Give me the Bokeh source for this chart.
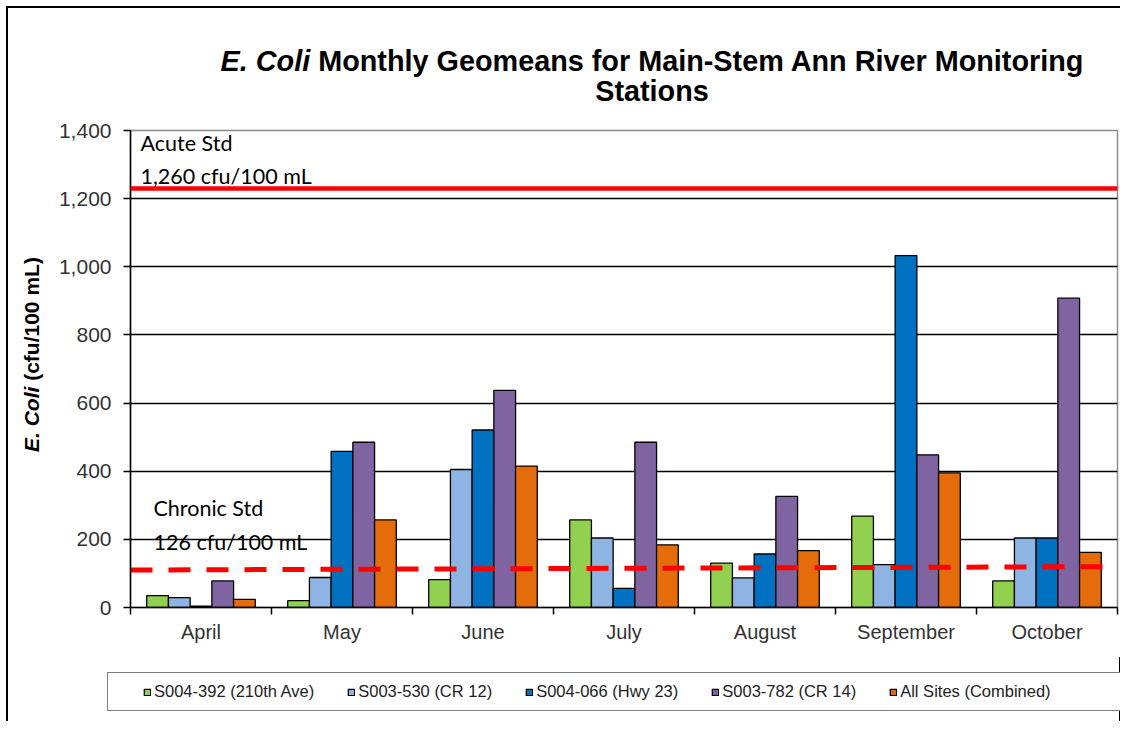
from bokeh.plotting import figure
from bokeh.models import (FixedTicker, NumeralTickFormatter, Range1d, Label, Legend,
                          LegendItem, Span, Div)
from bokeh.layouts import column, row
from bokeh.embed import file_html
from bokeh.resources import INLINE

# ---------------- data ----------------
months = ["April", "May", "June", "July", "August", "September", "October"]
series_names = ["S004-392 (210th Ave)", "S003-530 (CR 12)", "S004-066 (Hwy 23)",
                "S003-782 (CR 14)", "All Sites (Combined)"]
s004_392 = [35, 20, 82, 257, 130, 268, 78]
s003_530 = [29, 88, 405, 204, 87, 126, 204]
s004_066 = [4, 458, 521, 56, 157, 1033, 204]
s003_782 = [78, 485, 637, 485, 326, 448, 908]
all_sites = [24, 257, 415, 184, 167, 395, 162]
series_values = [s004_392, s003_530, s004_066, s003_782, all_sites]
series_colors = ["#92D050", "#8DB4E2", "#0070C0", "#8064A2", "#E46C0A"]
y_ticks = [0, 200, 400, 600, 800, 1000, 1200, 1400]
acute_level = 1230          # drawn position of the acute standard line
chronic_line = [110, 120]   # dashed chronic standard line, left to right

FONT = "Liberation Sans"
CAL = "Lato"

p = figure(width=1068, height=541, output_backend="svg", toolbar_location=None,
           x_range=Range1d(0, len(months)), y_range=Range1d(0, 1400),
           min_border_left=78, min_border_right=3, min_border_top=14,
           min_border_bottom=50)
p.background_fill_color = "white"
p.border_fill_color = "white"
p.outline_line_color = "#8c8c8c"
p.outline_line_width = 1.5

# ---------------- bars ----------------
bw = 0.154
bar_x = []
for k, (vals, col) in enumerate(zip(series_values, series_colors)):
    xs = [i + 0.5 + (k - 2) * bw for i in range(len(months))]
    bar_x.append(xs)
    p.vbar(x=xs, top=vals, width=bw, bottom=0, fill_color=col,
           line_color="black", line_width=1.3)

# ---------------- standards ----------------
p.add_layout(Span(location=acute_level, dimension="width", line_color="#FF0000",
                  line_width=4.5))
p.line(x=[0, len(months)], y=chronic_line, line_color="#FF0000", line_width=5,
       line_dash="22 16")

# ---------------- axes ----------------
yax = p.yaxis[0]
yax.ticker = FixedTicker(ticks=y_ticks)
yax.formatter = NumeralTickFormatter(format="0,0")
yax.major_tick_out = 7
yax.major_tick_in = 0
yax.minor_tick_line_color = None
yax.axis_line_color = "black"
yax.axis_line_width = 1.5
yax.major_tick_line_color = "black"
yax.major_tick_line_width = 1.5
yax.major_label_text_font = FONT
yax.major_label_text_font_size = "21px"
yax.major_label_text_color = "#333333"
yax.major_label_standoff = 12

xax = p.xaxis[0]
centers = [i + 0.5 for i in range(len(months))]
xax.ticker = FixedTicker(ticks=centers, minor_ticks=list(range(len(months) + 1)))
xax.major_label_overrides = {c: m for c, m in zip(centers, months)}
xax.major_tick_line_color = None
xax.major_tick_out = 0
xax.major_tick_in = 0
xax.minor_tick_line_color = "black"
xax.minor_tick_line_width = 1.5
xax.minor_tick_out = 7
xax.minor_tick_in = 0
xax.axis_line_color = "black"
xax.axis_line_width = 1.5
xax.major_label_text_font = FONT
xax.major_label_text_font_size = "20px"
xax.major_label_text_color = "#333333"
xax.major_label_standoff = 6

p.xgrid.visible = False
p.ygrid.ticker = FixedTicker(ticks=y_ticks[1:-1])
p.ygrid.grid_line_color = "black"
p.ygrid.grid_line_width = 1.3

# ---------------- in-plot texts ----------------
def lab(x, y, text):
    p.add_layout(Label(x=x, y=y, x_units="screen", y_units="screen", text=text,
                       text_font=CAL, text_font_size="21.5px",
                       text_align="left", text_baseline="alphabetic",
                       text_color="black"))

lab(10, 465, "Acute Std")
lab(10, 432, "1,260 cfu/100 mL")
lab(23, 100, "Chronic Std")
lab(23, 66, "126 cfu/100 mL")

# ---------------- legend (own strip below the chart) ----------------
# proxy bars for the legend keys sit outside this strip's visible x range
lf = figure(width=1112, height=64, output_backend="svg", toolbar_location=None,
            x_range=Range1d(-3, -2), y_range=Range1d(0, 1),
            x_axis_location=None, y_axis_location=None, min_border=0)
lf.outline_line_color = None
lf.xgrid.visible = False
lf.ygrid.visible = False
lf.background_fill_color = "white"
lf.border_fill_color = "white"
leg_r = [lf.vbar(x=xs, top=vals, width=bw, fill_color=c, line_color="black",
                 line_width=1.3)
         for xs, vals, c in zip(bar_x, series_values, series_colors)]
dummy = lf.vbar(x=bar_x[0], top=series_values[0], width=bw, fill_alpha=0, line_alpha=0)
items = [LegendItem(label=n, renderers=[r]) for n, r in zip(series_names, leg_r)]
items.append(LegendItem(label=" ", renderers=[dummy]))
leg = Legend(items=items, orientation="horizontal", location=(99, 10),
             label_text_font=FONT, label_text_font_size="16.5px",
             label_text_color="#222222", glyph_width=8, glyph_height=8,
             label_standoff=3, spacing=33, padding=9, label_height=18,
             label_width=18, title=" ", title_location="left", title_standoff=21,
             title_text_font_size="4px",
             border_line_color="black", border_line_width=1.5,
             background_fill_color="white", background_fill_alpha=1.0, margin=0)
lf.add_layout(leg)

# ---------------- title & y label (mixed italic / bold) ----------------
title_div = Div(width=1112, height=108, margin=0, text=(
    "<div style=\"padding:38px 0 0 176px; width:1112px; text-align:center; "
    "font-family:'Liberation Sans'; font-weight:bold; font-size:28.8px; "
    "line-height:30px; color:#000; white-space:nowrap;\">"
    "<i>E. Coli</i> Monthly Geomeans for Main-Stem Ann River Monitoring<br>Stations"
    "</div>"))

ylab_div = Div(width=44, height=541, margin=0, text=(
    "<div style=\"padding:336px 0 0 13px;\">"
    "<div style=\"width:0; height:0; overflow:visible;\">"
    "<div style=\"transform-origin:0 0; transform:rotate(-90deg); white-space:nowrap; "
    "font-family:'Liberation Sans'; font-weight:bold; font-size:21px; "
    "line-height:21px; color:#000;\"><i>E. Coli</i> (cfu/100 mL)</div></div></div>"))

layout = column(title_div, row(ylab_div, p), lf, width=1114, height=715,
                styles={"border-top": "2px solid black", "border-left": "2px solid black",
                        "margin-left": "6px", "margin-top": "6px",
                        "overflow": "hidden"})

open("out.html", "w").write(file_html(layout, INLINE))
